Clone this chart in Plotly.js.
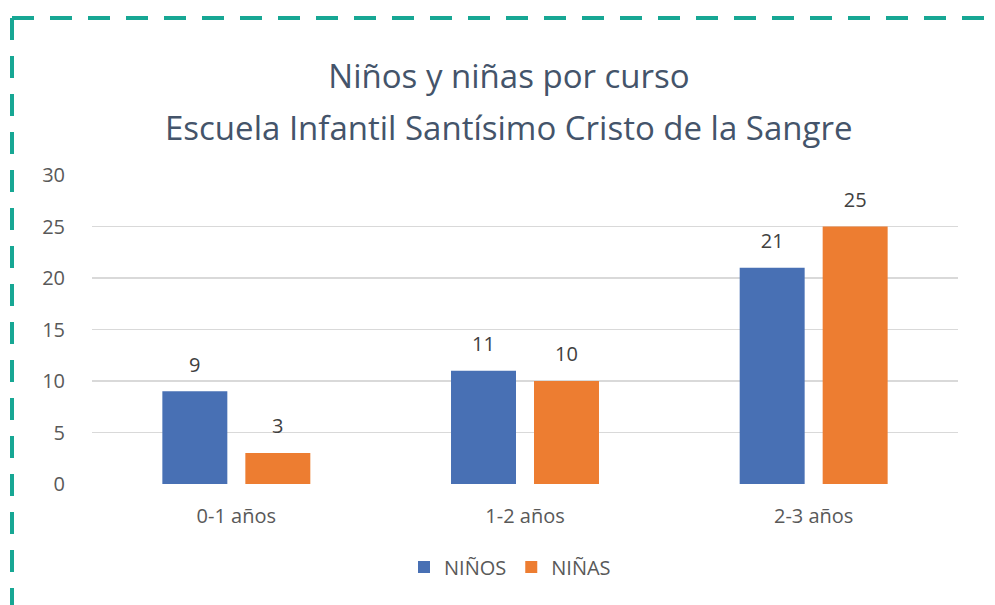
<!DOCTYPE html>
<html>
<head>
<meta charset="utf-8">
<script src="https://cdn.plot.ly/plotly-3.0.1.min.js"></script>
<style>html,body{margin:0;padding:0;background:#fff;} #chart{width:995px;height:605px;}</style>
</head>
<body>
<div id="chart"></div>
<script>
const categories = ["0-1 años", "1-2 años", "2-3 años"];
const ninos = [9, 11, 21];
const ninas = [3, 10, 25];
const seriesNames = ["NIÑOS", "NIÑAS"];
const yTicks = [0, 5, 10, 15, 20, 25, 30];
const titleLine1 = "Niños y niñas por curso";
const titleLine2 = "Escuela Infantil Santísimo Cristo de la Sangre";

const W = 995, H = 605;
const L = 92, R = 37, T = 175, B = 121;
const pw = W - L - R, ph = H - T - B;
const px = x => (x - L) / pw;
const py = y => (H - B - y) / ph;

const font = "'Open Sans', 'Noto Sans', sans-serif";
const colors = ["#4870B4", "#ED7D31"];
const series = [ninos, ninas];

const traces = [];
series.forEach((vals, i) => {
  traces.push({type: "bar", name: seriesNames[i], x: categories, y: vals, marker: {color: colors[i]},
               offsetgroup: "g" + i, hoverinfo: "none"});
});
series.forEach((vals, i) => {
  traces.push({type: "scatter", mode: "markers+text", x: categories, y: vals, offsetgroup: "g" + i,
               marker: {size: 22, color: "rgba(0,0,0,0)"}, showlegend: false,
               text: vals.map(String), textposition: "top center", cliponaxis: false,
               textfont: {color: "#404040", size: 20, family: font}, hoverinfo: "none"});
});

const layout = {
  width: W, height: H,
  margin: {l: L, r: R, t: T, b: B, pad: 0},
  paper_bgcolor: "#fff", plot_bgcolor: "#fff",
  font: {family: font, color: "#595959"},
  title: {text: titleLine1, font: {family: font, size: 33, color: "#44546A"},
          x: px(509), xanchor: "center", xref: "paper", y: 1 - 76 / H, yanchor: "middle", yref: "container"},
  annotations: [
    {text: titleLine2, showarrow: false, font: {family: font, size: 33, color: "#44546A"},
     xref: "paper", yref: "paper", x: px(508), y: py(127), xanchor: "center", yanchor: "middle"}
  ],
  barmode: "group", bargap: 0.425, bargroupgap: 0.217,
  scattermode: "group", scattergap: 0.425,
  xaxis: {tickfont: {size: 20, color: "#595959"}, showline: false, ticks: "outside", ticklen: 14,
          tickcolor: "rgba(0,0,0,0)", showgrid: false, fixedrange: true},
  yaxis: {range: [0, 30], tickvals: yTicks, ticktext: yTicks.map(String), tickfont: {size: 20, color: "#595959"},
          gridcolor: "#D9D9D9", gridwidth: 1.5, zeroline: false, ticks: "outside", ticklen: 22,
          tickcolor: "rgba(0,0,0,0)", showline: false},
  showlegend: true,
  legend: {orientation: "h", x: px(510), xanchor: "center", y: py(567), yanchor: "middle",
           font: {size: 20, color: "#595959"}, traceorder: "normal"},
  shapes: [
    {type: "line", xref: "paper", yref: "paper", x0: px(12), x1: px(1000), y0: py(18), y1: py(18),
     line: {color: "#17A794", width: 4, dash: "22px,16px"}},
    {type: "line", xref: "paper", yref: "paper", x0: px(12), x1: px(12), y0: py(18), y1: py(610),
     line: {color: "#17A794", width: 4, dash: "22px,16px"}}
  ]
};

Plotly.newPlot("chart", traces, layout, {displayModeBar: false, staticPlot: true});
</script>
</body>
</html>
